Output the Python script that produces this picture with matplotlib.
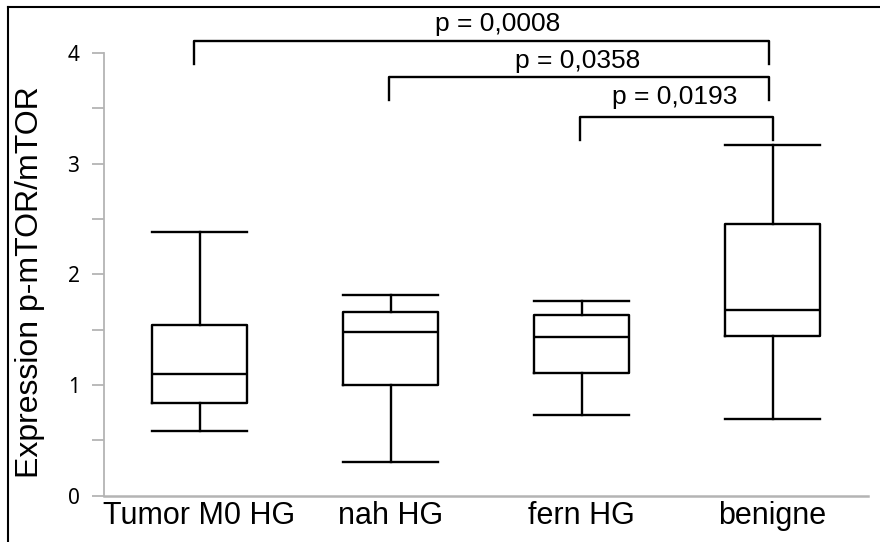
import matplotlib
matplotlib.use("Agg")
from matplotlib import pyplot as plt
from matplotlib.lines import Line2D

# valeurs
categories = ["Tumor M0 HG", "nah HG", "fern HG", "benigne"]
whislo = [0.58, 0.30, 0.73, 0.69]
q1 = [0.84, 1.00, 1.11, 1.44]
med = [1.10, 1.48, 1.43, 1.68]
q3 = [1.54, 1.66, 1.63, 2.45]
whishi = [2.38, 1.81, 1.76, 3.17]

# comparaisons (groupe gauche, groupe droit, hauteur, bas des crochets, texte)
bracket_left = [0.97, 1.99, 2.99]
bracket_right = [3.98, 3.98, 4.0]
bracket_y = [4.11, 3.78, 3.42]
bracket_drop = [3.90, 3.57, 3.21]
p_labels = ["p = 0,0008", "p = 0,0358", "p = 0,0193"]
p_text_x = [2.56, 2.98, 3.49]
p_text_y = [4.26, 3.93, 3.60]

plt.rcParams['font.family'] = ['Liberation Sans', 'DejaVu Sans']

fig = plt.figure(figsize=(8.8, 5.42), dpi=100)
ax = fig.add_axes([104 / 880, 1 - 495.6 / 542, 764 / 880, 488.6 / 542])

stats = []
for i in range(len(categories)):
    stats.append({'med': med[i], 'q1': q1[i], 'q3': q3[i],
                  'whislo': whislo[i], 'whishi': whishi[i], 'label': categories[i]})

line_style = {'color': 'black', 'linewidth': 1.7}
ax.bxp(stats, positions=[1, 2, 3, 4], widths=0.5, capwidths=0.5,
       showfliers=False, boxprops=line_style, whiskerprops=line_style,
       capprops=line_style, medianprops=line_style)

ax.set_xlim(0.5, 4.5)
ax.set_ylim(0, 4.414)

for side in ['top', 'right']:
    ax.spines[side].set_visible(False)
ax.spines['left'].set_color('#b4b4b4')
ax.spines['left'].set_linewidth(1.3)
ax.spines['left'].set_bounds(0, 4)
ax.spines['bottom'].set_color('#b4b4b4')
ax.spines['bottom'].set_linewidth(1.8)

ax.set_yticks([0, 1, 2, 3, 4])
ax.set_yticks([0.5, 1.5, 2.5, 3.5], minor=True)
ax.tick_params(axis='y', which='both', direction='out', length=8.6,
               width=1.3, color='#b4b4b4', pad=9)
ax.tick_params(axis='y', which='major', labelsize=15)
for lab in ax.get_yticklabels():
    lab.set_family(['Noto Sans', 'DejaVu Sans'])
ax.tick_params(axis='x', length=0, pad=4, labelsize=22)

ax.set_ylabel('Expression p-mTOR/mTOR', fontsize=23)
ax.yaxis.set_label_coords(-0.077, 0.437)

for i in range(len(p_labels)):
    ax.plot([bracket_left[i], bracket_left[i], bracket_right[i], bracket_right[i]],
            [bracket_drop[i], bracket_y[i], bracket_y[i], bracket_drop[i]],
            color='black', linewidth=1.7, clip_on=False)
    ax.text(p_text_x[i], p_text_y[i], p_labels[i], ha='center', va='center', fontsize=19)

# cadre autour de la figure (haut et gauche)
fig.add_artist(Line2D([8 / 880, 1], [1 - 7 / 542, 1 - 7 / 542], color='black', linewidth=1.5))
fig.add_artist(Line2D([8 / 880, 8 / 880], [0, 1 - 7 / 542], color='black', linewidth=1.5))

fig.savefig('out.png', dpi=100)
